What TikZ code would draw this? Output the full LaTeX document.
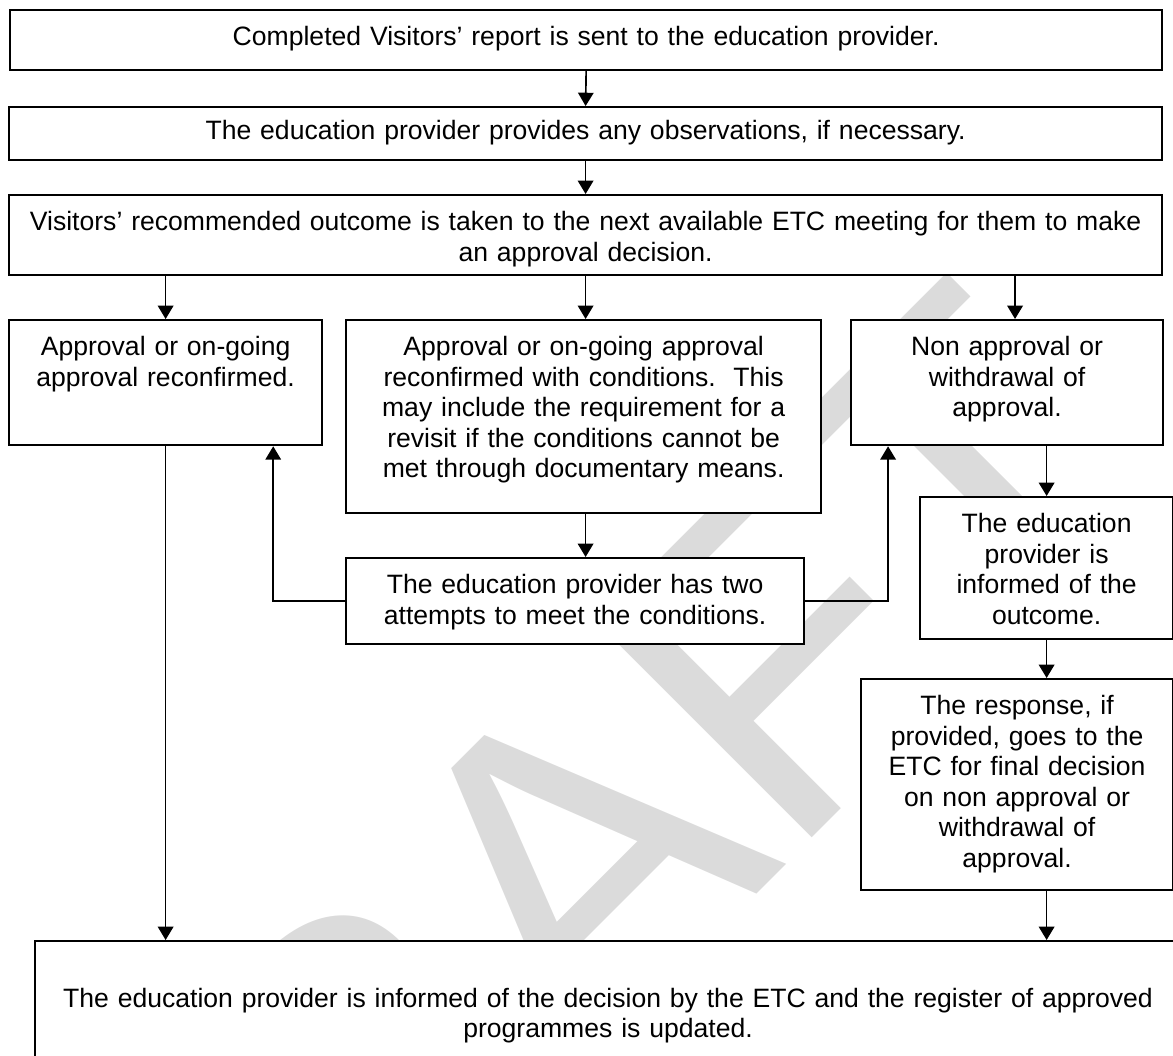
\documentclass[tikz,border=0pt]{standalone}
\usepackage{fontspec}
\setmainfont{Liberation Sans}
\usetikzlibrary{arrows.meta}
\tikzset{
  fl/.style={x=0.4517pt,y=-0.4517pt,line width=.75pt,>={Triangle[length=6pt,width=7pt]},font=\fontsize{12}{13.8}\selectfont},
  stepbox/.style={draw,fill=white,line width=1pt,anchor=north west,align=center,inner xsep=4pt,inner ysep=0pt,text height=16pt},
  wmark/.style={text=black!14,rotate=45,font=\fontsize{200}{200}\selectfont}
}

\begin{document}
\begin{tikzpicture}[fl]
  \useasboundingbox (0,0) rectangle (1173,1055);
  % watermark, behind the boxes
  \node[wmark] (draft) at (540,895) {DRAFT};
  \node[stepbox,text width=512.4pt,text depth=11.1pt] (rep) at (9,9) {Completed Visitors’ report is sent to the education provider.};
  \node[stepbox,text width=512.8pt,text height=14.5pt,text depth=9.4pt] (obs) at (8,106) {The education provider provides any observations, if necessary.};
  \node[stepbox,text width=512.8pt,text depth=20.1pt] (etc) at (8,194) {Visitors’ recommended outcome is taken to the next available ETC meeting for them to make\\an approval decision.};
  % three outcomes
  \node[stepbox,text width=133.4pt,text depth=40.5pt] (ok) at (8,319) {Approval or on-going\\approval reconfirmed.};
  \node[stepbox,text width=206.6pt,text depth=71.2pt] (cond) at (345,319) {Approval or on-going approval\\reconfirmed with conditions.\ \ This\\may include the requirement for a\\revisit if the conditions cannot be\\met through documentary means.};
  \node[stepbox,text width=132.9pt,text depth=40.5pt] (non) at (850,319) {Non approval or\\withdrawal of\\approval.};
  \node[stepbox,text width=198.9pt,text depth=22.8pt] (twice) at (345,557) {The education provider has two\\attempts to meet the conditions.};
  \node[stepbox,text width=106.3pt,text depth=48.1pt] (told) at (919,496) {The education\\provider is\\informed of the\\outcome.};
  \node[stepbox,text width=132.9pt,text depth=79.3pt] (resp) at (860,678) {The response, if\\provided, goes to the\\ETC for final decision\\on non approval or\\withdrawal of\\approval.};
  \node[stepbox,text width=509.6pt,text height=29.8pt,text depth=33.4pt] (final) at (34,940) {The education provider is informed of the decision by the ETC and the register of approved\\programmes is updated.};
  % connectors
  \draw[->] (rep.south) -- (obs.north);
  \draw[->] (obs.south) -- (etc.north);
  \draw[->] (ok.north |- etc.south) -- (ok.north);
  \draw[->] (etc.south) -- (etc.south |- cond.north);
  \draw[->] ([xshift=3.6pt]non.north |- etc.south) -- ([xshift=3.6pt]non.north);
  \draw[->] (etc.south |- cond.south) -- (etc.south |- twice.north);
  \draw[->] (twice.west) -| ([xshift=-22.6pt]ok.south east);
  \draw[->] (twice.east) -| ([xshift=17.2pt]non.south west);
  \draw[->] (told.north |- non.south) -- (told.north);
  \draw[->] (told.south) -- (told.south |- resp.north);
  \draw[->] (told.south |- resp.south) -- (told.south |- final.north);
  \draw[->] (ok.south) -- (ok.south |- final.north);
\end{tikzpicture}
\end{document}
